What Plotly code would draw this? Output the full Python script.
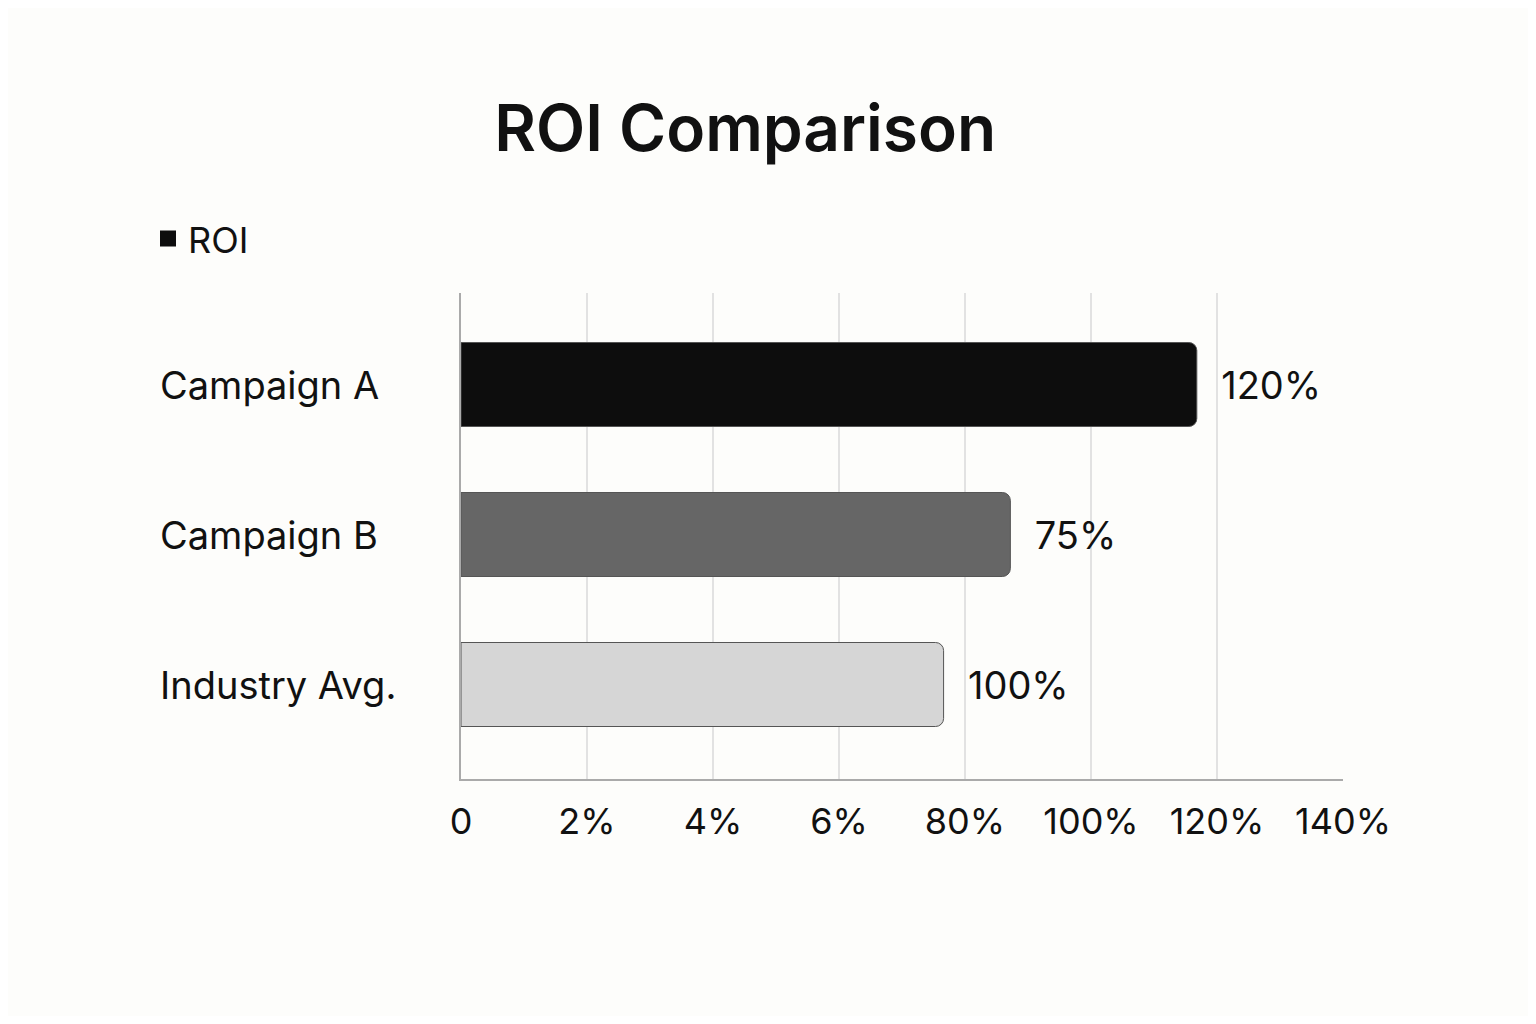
import plotly.graph_objects as go

categories = ["Campaign A", "Campaign B", "Industry Avg."]
bar_positions = [5.84, 4.36, 3.83]  # bar ends, in axis tick units as drawn
value_labels = ["120%", "75%", "100%"]
colors = ["#0d0d0d", "#666666", "#d6d6d6"]
tick_positions = [0, 1, 2, 3, 4, 5, 6, 7]
tick_labels = ["0", "2%", "4%", "6%", "80%", "100%", "120%", "140%"]

fig = go.Figure(go.Bar(
    y=categories, x=bar_positions, orientation="h", name="ROI",
    marker=dict(color=colors, line=dict(color="#555555", width=1), cornerradius=8),
    text=["  " + t for t in value_labels], textposition="outside", cliponaxis=False,
    textfont=dict(size=38, color="#111111", family="Inter"),
    showlegend=False,
))
fig.add_trace(go.Scatter(x=[None], y=[None], mode="markers", name="ROI",
                         marker=dict(symbol="square", size=32, color="#0d0d0d")))

W, L, R = 1520, 453, 185
for i, c in enumerate(categories):
    fig.add_annotation(x=(150 - L) / (W - L - R), xref="paper", y=c, yref="y",
                       text=c, showarrow=False, xanchor="left",
                       font=dict(size=38, color="#111111", family="Inter"))

fig.update_layout(
    width=1520, height=1008,
    paper_bgcolor="#fdfdfb", plot_bgcolor="#fdfdfb",
    margin=dict(l=L, r=R, t=285, b=237),
    title=dict(text="ROI Comparison", x=0.485, xanchor="center", y=0.88, yanchor="middle",
               font=dict(size=64, color="#111111", family="Inter", weight=600)),
    font=dict(family="Inter", color="#111111"),
    bargap=0.44,
    legend=dict(x=(140 - L) / (W - L - R), xanchor="left", y=1.05, yanchor="bottom",
                font=dict(size=36, color="#111111"), bgcolor="rgba(0,0,0,0)",
                itemsizing="trace"),
    xaxis=dict(range=[0, 7], tickvals=tick_positions, ticktext=tick_labels,
               showgrid=True, gridcolor="#e2e2e2", gridwidth=2, zeroline=False,
               showline=True, linecolor="#aaaaaa", linewidth=2,
               tickfont=dict(size=36, color="#111111"), ticks="", ticklabelstandoff=10),
    yaxis=dict(range=[2.63, -0.61], showticklabels=False, showgrid=False,
               showline=True, linecolor="#aaaaaa", linewidth=2, zeroline=False),
)
fig.write_html("out.html")
